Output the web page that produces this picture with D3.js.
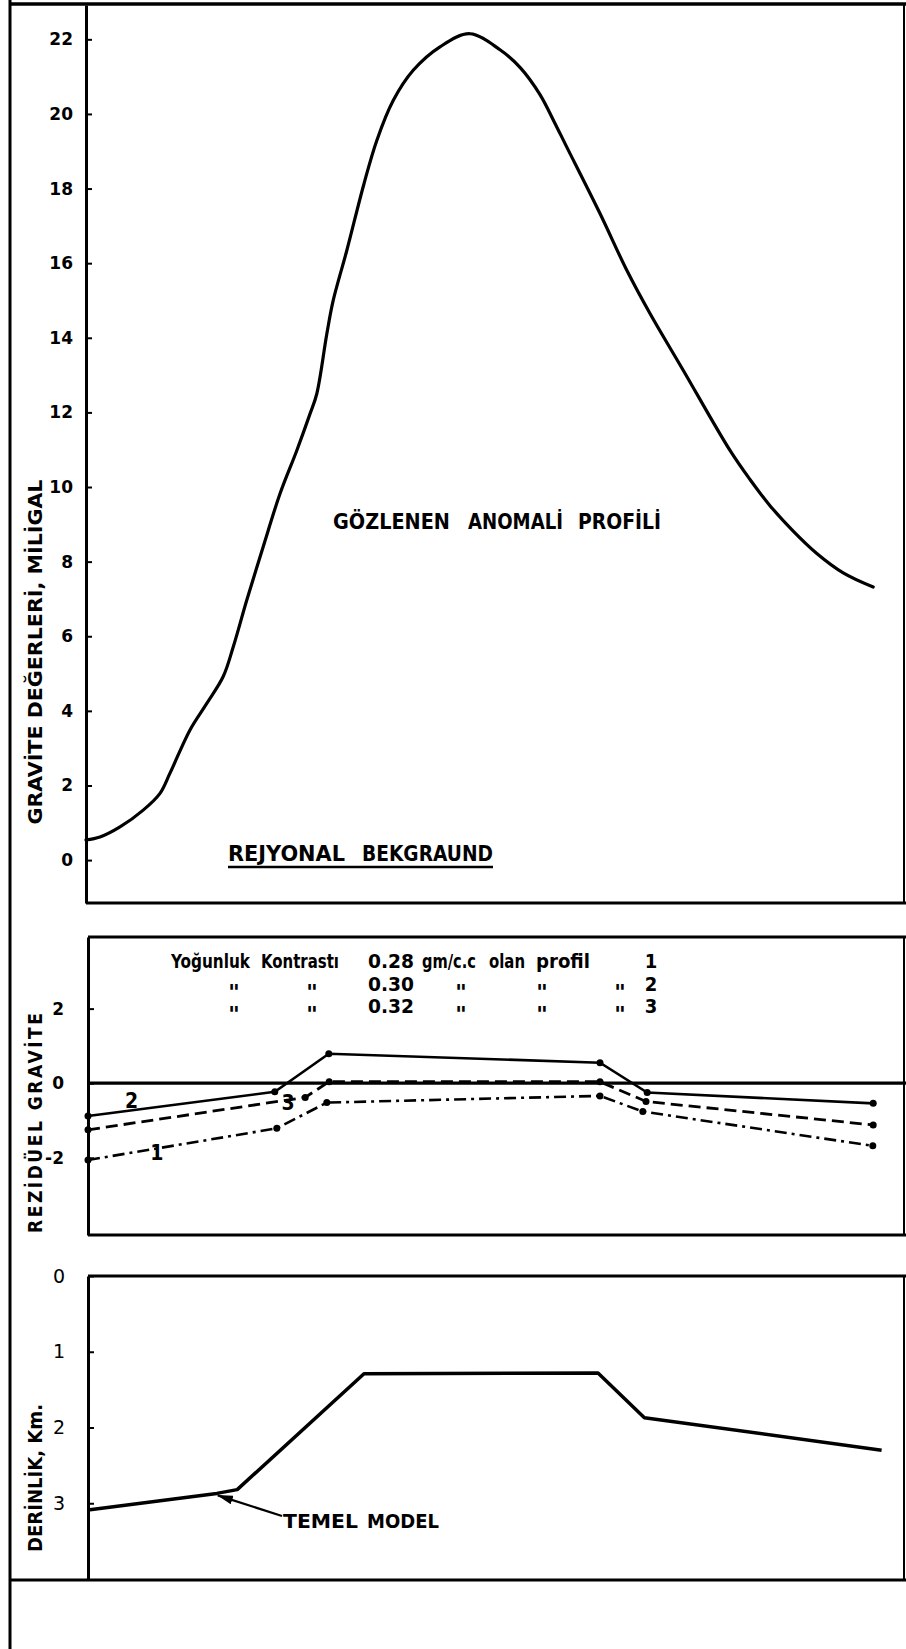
<!DOCTYPE html>
<html>
<head>
<meta charset="utf-8">
<script src="https://cdn.jsdelivr.net/npm/d3@7"></script>
<style>
  html, body { margin: 0; padding: 0; background: #fff; }
  svg { display: block; }
</style>
</head>
<body>
<svg id="chart" width="906" height="1649"></svg>
<script>
// ---- Observed gravity anomaly profile (distance km, mGal) ----
const anomalyKm   = [0, 0.35, 0.85, 1.43, 1.85, 2.1, 2.6, 3.02, 3.43, 3.68, 4.02, 4.43, 4.85, 5.27, 5.6, 5.77, 6.02, 6.18, 6.52, 6.95, 7.27, 7.68, 8.18, 8.85, 9.6, 10.35, 10.85, 11.35, 11.7, 12.02, 12.85, 13.52, 14.1, 14.93, 16.1, 16.6, 17.1, 17.68, 18.27, 18.93, 19.68];
const anomalyMgal = [0.54, 0.62, 0.89, 1.34, 1.79, 2.33, 3.49, 4.2, 4.92, 5.71, 6.97, 8.4, 9.82, 10.98, 11.96, 12.5, 14.1, 15.0, 16.34, 18.13, 19.29, 20.36, 21.17, 21.8, 22.15, 21.72, 21.25, 20.52, 19.8, 19.11, 17.33, 15.81, 14.65, 13.13, 10.98, 10.2, 9.5, 8.82, 8.22, 7.7, 7.32];
const gravityTicks = [0, 2, 4, 6, 8, 10, 12, 14, 16, 18, 20, 22];

// ---- Residual gravity for the three density contrasts ----
const densities  = ["0.28", "0.30", "0.32"];
const profileIds = ["1", "2", "3"];
const profile1Km  = [0.05, 4.77, 6.02, 12.85, 13.92, 19.67];
const profile1Res = [-2.06, -1.21, -0.52, -0.34, -0.76, -1.68];
const profile2Km  = [0.05, 4.72, 6.07, 12.85, 14.03, 19.68];
const profile2Res = [-0.88, -0.23, 0.79, 0.55, -0.25, -0.54];
const profile3Km  = [0.05, 5.48, 6.08, 12.85, 14.0, 19.68];
const profile3Res = [-1.25, -0.38, 0.04, 0.04, -0.49, -1.12];
const residualTicks = [-2, 0, 2];

// ---- Basement model depth (km) ----
const depthKm  = [0.05, 3.27, 3.78, 6.95, 12.8, 13.96, 19.89];
const depthVal = [3.09, 2.87, 2.82, 1.29, 1.28, 1.87, 2.30];
const depthTicks = [0, 1, 2, 3];

// ---------------------------------------------------------------
const W = 906, H = 1649;
const svg = d3.select("#chart");
svg.append("rect").attr("width", W).attr("height", H).attr("fill", "#fff");

const x  = d3.scaleLinear().domain([0, 20.45]).range([86, 904]);
const yG = d3.scaleLinear().domain([-1.15, 22.92]).range([903, 5]);
const yR = d3.scaleLinear().domain([-4.07, 3.92]).range([1235, 937]);
const yD = d3.scaleLinear().domain([0, 4]).range([1276, 1579]);

const FONT = "'DejaVu Sans', sans-serif";
const FONT_C = "'DejaVu Sans Condensed', 'DejaVu Sans', sans-serif";

function hline(y, x1, x2, w) {
  svg.append("line").attr("x1", x1).attr("x2", x2).attr("y1", y).attr("y2", y)
    .attr("stroke", "#000").attr("stroke-width", w);
}
function vline(xp, y1, y2, w) {
  svg.append("line").attr("x1", xp).attr("x2", xp).attr("y1", y1).attr("y2", y2)
    .attr("stroke", "#000").attr("stroke-width", w);
}

// outer sheet frame
vline(10, 0, H, 3);
hline(4, 10, W, 3.5);

// panel frames
hline(903, 86, W, 3);
vline(904, 4, 903, 2);
hline(937, 88, W, 3);
hline(1235, 88, W, 3);
vline(904, 937, 1235, 2);
hline(1276, 88, W, 3);
hline(1580, 10, W, 3);
vline(904, 1276, 1580, 2);

function leftAxis(scale, ticks, xpos, weight, size, pad) {
  const g = svg.append("g").attr("transform", `translate(${xpos},0)`)
    .call(d3.axisLeft(scale).tickValues(ticks).tickSize(-6).tickSizeOuter(0)
      .tickPadding(pad).tickFormat(d => String(d)));
  g.select(".domain").attr("stroke", "#000").attr("stroke-width", 3);
  g.selectAll(".tick line").attr("stroke", "#000").attr("stroke-width", 2);
  g.selectAll(".tick text").attr("font-family", FONT).attr("font-size", size)
    .attr("font-weight", weight).attr("fill", "#000");
  return g;
}
leftAxis(yG, gravityTicks, 86, "bold", 17, 13);
leftAxis(yR, residualTicks, 88, "bold", 17, 24);
leftAxis(yD, depthTicks, 88, "normal", 19, 23);

// rotated axis titles
function axisTitle(txt, cy, len, spacingOnly) {
  svg.append("text")
    .attr("transform", `translate(35,${cy}) rotate(-90)`)
    .attr("text-anchor", "middle").attr("dominant-baseline", "central")
    .attr("font-family", FONT_C).attr("font-weight", "bold").attr("font-size", 19)
    .attr("textLength", len).attr("lengthAdjust", spacingOnly ? "spacing" : "spacingAndGlyphs")
    .attr("fill", "#000")
    .text(txt);
}
axisTitle("GRAVİTE DEĞERLERİ, MİLİGAL", 652, 345, false);
axisTitle("REZİDÜEL GRAVİTE", 1123, 220, true);
axisTitle("DERİNLİK, Km.", 1478, 148, false);

// word placed to a fixed width
function word(txt, x0, base, len, size, font, weight, adjust) {
  svg.append("text").attr("x", x0).attr("y", base)
    .attr("font-family", font || FONT).attr("font-weight", weight || "bold")
    .attr("font-size", size).attr("textLength", len)
    .attr("lengthAdjust", adjust || "spacingAndGlyphs")
    .attr("fill", "#000").text(txt);
}

// ---- top panel: observed anomaly ----
const gLine = d3.line().x(d => x(d[0])).y(d => yG(d[1])).curve(d3.curveCatmullRom.alpha(0.5));
svg.append("path").datum(d3.zip(anomalyKm, anomalyMgal))
  .attr("d", gLine).attr("fill", "none").attr("stroke", "#000")
  .attr("stroke-width", 3.2).attr("stroke-linejoin", "round").attr("stroke-linecap", "round");

word("GÖZLENEN", 333, 529, 117, 21);
word("ANOMALİ", 468, 529, 95, 21);
word("PROFİLİ", 578, 529, 83, 21);

word("REJYONAL", 228, 861, 117, 21);
word("BEKGRAUND", 362, 861, 131, 21);
hline(867, 228, 493, 2.5);

// ---- residual panel ----
hline(yR(0), 88, W, 3.2);

const rLine = d3.line().x(d => x(d[0])).y(d => yR(d[1]));
const residualSeries = [
  { km: profile2Km, val: profile2Res, dash: null, w: 2.6 },
  { km: profile3Km, val: profile3Res, dash: "12,6", w: 2.8 },
  { km: profile1Km, val: profile1Res, dash: "12,5,3,5", w: 2.6 }
];
residualSeries.forEach(s => {
  const pts = d3.zip(s.km, s.val);
  svg.append("path").datum(pts).attr("d", rLine).attr("fill", "none")
    .attr("stroke", "#000").attr("stroke-width", s.w)
    .attr("stroke-dasharray", s.dash);
  svg.selectAll(null).data(pts).enter().append("circle")
    .attr("cx", d => x(d[0])).attr("cy", d => yR(d[1])).attr("r", 3.5).attr("fill", "#000");
});

// curve labels
const curveLabels = [
  { t: "2", km: 1.14, v: -0.49 },
  { t: "3", km: 5.05, v: -0.53 },
  { t: "1", km: 1.77, v: -1.87 }
];
svg.selectAll(null).data(curveLabels).enter().append("text")
  .attr("x", d => x(d.km)).attr("y", d => yR(d.v))
  .attr("text-anchor", "middle").attr("dominant-baseline", "central")
  .attr("font-family", FONT_C).attr("font-weight", "bold").attr("font-size", 21).attr("fill", "#000")
  .text(d => d.t);

// density legend block
const rowBase = [968, 991, 1013];
word("Yoğunluk", 171, rowBase[0], 79, 20, FONT_C, "bold");
word("Kontrastı", 261, rowBase[0], 78, 20, FONT_C, "bold");
word("gm/c.c", 422, rowBase[0], 54, 19, FONT_C, "bold");
word("olan", 489, rowBase[0], 36, 20, FONT_C, "bold");
word("profil", 536, rowBase[0], 54, 20, FONT_C, "bold");
densities.forEach((d, i) => {
  word(d, 368, rowBase[i], 46, 20, FONT_C, "bold");
  svg.append("text").attr("x", 651).attr("y", rowBase[i]).attr("text-anchor", "middle")
    .attr("font-family", FONT_C).attr("font-weight", "bold").attr("font-size", 20)
    .attr("fill", "#000").text(profileIds[i]);
  if (i > 0) {
    [234, 312, 461, 542, 620].forEach(xp => {
      svg.append("text").attr("x", xp).attr("y", rowBase[i] + 9).attr("text-anchor", "middle")
        .attr("font-family", FONT).attr("font-weight", "bold").attr("font-size", 22)
        .attr("fill", "#000").text("\u0022");
    });
  }
});

// ---- depth panel: basement model ----
const dLine = d3.line().x(d => x(d[0])).y(d => yD(d[1]));
svg.append("path").datum(d3.zip(depthKm, depthVal)).attr("d", dLine)
  .attr("fill", "none").attr("stroke", "#000").attr("stroke-width", 3.5)
  .attr("stroke-linejoin", "round");

svg.append("defs").append("marker")
  .attr("id", "arrowhead").attr("viewBox", "0 0 16 9").attr("refX", 15).attr("refY", 4.5)
  .attr("markerWidth", 16).attr("markerHeight", 9).attr("markerUnits", "userSpaceOnUse")
  .attr("orient", "auto")
  .append("path").attr("d", "M0,0 L16,4.5 L0,9 Z").attr("fill", "#000");

svg.append("line")
  .attr("x1", 282).attr("y1", 1516)
  .attr("x2", x(depthKm[1]) + 1).attr("y2", yD(depthVal[1]) + 2)
  .attr("stroke", "#000").attr("stroke-width", 2.2).attr("marker-end", "url(#arrowhead)");

word("TEMEL", 283, 1528, 75, 19, FONT_C);
word("MODEL", 367, 1528, 72, 19, FONT_C);
</script>
</body>
</html>
